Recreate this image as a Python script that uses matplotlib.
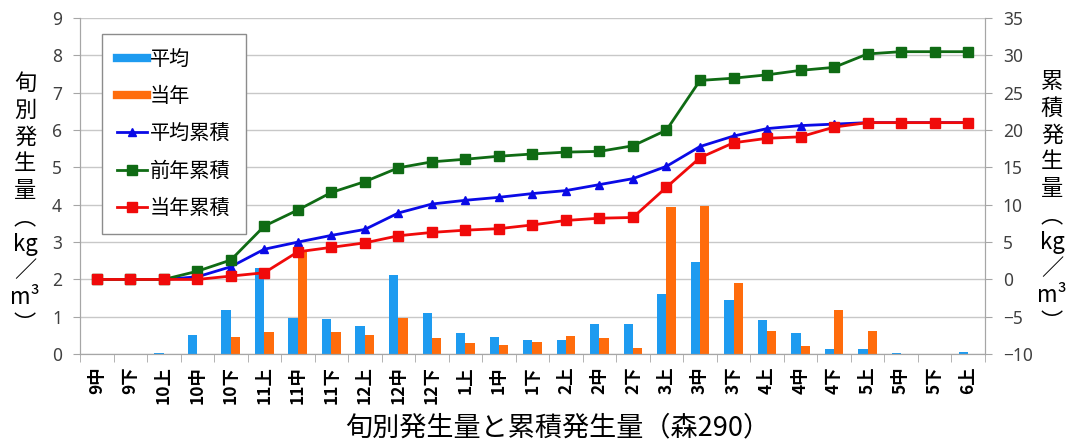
import matplotlib.pyplot as plt
import numpy as np
from matplotlib.lines import Line2D

plt.rcParams["font.family"] = ["Noto Sans", "Noto Sans CJK JP", "DejaVu Sans"]

# 旬 (decade-of-month) labels
periods = ["9中", "9下", "10上", "10中", "10下", "11上", "11中", "11下",
           "12上", "12中", "12下", "1上", "1中", "1下", "2上", "2中", "2下",
           "3上", "3中", "3下", "4上", "4中", "4下", "5上", "5中", "5下", "6上"]

# 旬別発生量 (kg/m3) -- left axis
avg_amount = [0.0, 0.0, 0.03, 0.51, 1.19, 2.30, 0.98, 0.95, 0.75, 2.12,
              1.10, 0.57, 0.45, 0.39, 0.39, 0.80, 0.80, 1.61, 2.46, 1.44,
              0.91, 0.57, 0.15, 0.15, 0.035, 0.0, 0.06]
cur_amount = [0.0, 0.0, 0.0, 0.0, 0.45, 0.60, 2.77, 0.60, 0.52, 0.98,
              0.42, 0.31, 0.25, 0.33, 0.48, 0.42, 0.17, 3.93, 3.97, 1.90,
              0.61, 0.23, 1.17, 0.61, 0.0, 0.0, 0.0]

# 累積発生量 (kg/m3) -- right axis
avg_cum = [0.0, 0.0, 0.0, 0.35, 1.7, 4.05, 5.0, 5.9, 6.7, 8.9,
           10.1, 10.6, 11.0, 11.5, 11.9, 12.7, 13.5, 15.15, 17.8, 19.2,
           20.2, 20.6, 20.8, 21.0, 21.0, 21.0, 21.0]
prev_cum = [0.0, 0.0, 0.0, 1.1, 2.6, 7.15, 9.3, 11.65, 13.1, 14.95,
            15.75, 16.1, 16.5, 16.8, 17.05, 17.15, 17.9, 20.0, 26.65, 26.95,
            27.4, 28.0, 28.4, 30.2, 30.5, 30.5, 30.5]
cur_cum = [0.0, 0.0, 0.0, 0.0, 0.45, 0.9, 3.7, 4.3, 4.9, 5.85,
           6.3, 6.6, 6.8, 7.3, 7.9, 8.2, 8.3, 12.35, 16.3, 18.3,
           18.9, 19.1, 20.4, 21.0, 21.0, 21.0, 21.0]

C_AVG_BAR = "#1e9bf0"
C_CUR_BAR = "#ff6c0c"
C_AVG_LINE = "#0a0ae6"
C_PREV_LINE = "#0f6b14"
C_CUR_LINE = "#f00a0a"
AXIS_GRAY = "#a6a6a6"
JP = ["Noto Sans CJK JP"]

fig = plt.figure(figsize=(10.67, 4.41), dpi=100)
ax = fig.add_axes([0.075, 0.197, 0.848, 0.762])
ax2 = ax.twinx()

x = np.arange(len(periods))
w = 0.28
ax.bar(x - w / 2, avg_amount, w, color=C_AVG_BAR, zorder=2)
ax.bar(x + w / 2, cur_amount, w, color=C_CUR_BAR, zorder=2)

ax2.plot(x, avg_cum, color=C_AVG_LINE, lw=2.0, marker="^", ms=5.5)
ax2.plot(x, prev_cum, color=C_PREV_LINE, lw=2.0, marker="s", ms=7)
ax2.plot(x, cur_cum, color=C_CUR_LINE, lw=2.0, marker="s", ms=7)

ax.set_xlim(-0.5, len(periods) - 0.5)
ax.set_ylim(0, 9)
ax.set_yticks(range(0, 10))
ax2.set_ylim(-10, 35)
ax2.set_yticks(range(-10, 40, 5))

ax.yaxis.grid(True, color="#c8c8c8", lw=1.0, zorder=0)
ax.set_axisbelow(True)

ax.set_xticks(x)
ax.set_xticklabels(periods, rotation=90, fontsize=12.5, fontweight="bold",
                   family=JP)
ax.tick_params(axis="x", length=0, pad=9)
ax.set_xticks(np.arange(-0.5, len(periods)), minor=True)
ax.tick_params(axis="x", which="minor", length=6, color=AXIS_GRAY)

for a in (ax, ax2):
    a.spines["top"].set_visible(False)
    for s in ("left", "right", "bottom"):
        a.spines[s].set_color(AXIS_GRAY)
ax.tick_params(axis="y", labelsize=12.5, labelcolor="#404040",
               color=AXIS_GRAY, length=5, pad=8)
ax2.tick_params(axis="y", labelsize=12.5, labelcolor="#404040",
                color=AXIS_GRAY, length=5, pad=8)

# stacked vertical axis titles
left_label = "\n".join(["旬", "別", "発", "生", "量", "︵", "kg", "／", "m³", "︶"])
right_label = "\n".join(["累", "積", "発", "生", "量", "︵", "kg", "／", "m³", "︶"])
fig.text(25 / 1067, 1 - 204 / 441, left_label, ha="center", va="center",
         fontsize=16, linespacing=1.21, family=JP)
fig.text(1052 / 1067, 1 - 202 / 441, right_label, ha="center", va="center",
         fontsize=16, linespacing=1.21, family=JP)

fig.text(558 / 1067, 1 - 428 / 441, "旬別発生量と累積発生量（森290）",
         ha="center", va="center", fontsize=19.5, family=JP)

handles = [
    Line2D([], [], color=C_AVG_BAR, lw=6),
    Line2D([], [], color=C_CUR_BAR, lw=6),
    Line2D([], [], color=C_AVG_LINE, lw=2.0, marker="^", ms=5.5),
    Line2D([], [], color=C_PREV_LINE, lw=2.0, marker="s", ms=7),
    Line2D([], [], color=C_CUR_LINE, lw=2.0, marker="s", ms=7),
]
labels = ["平均", "当年", "平均累積", "前年累積", "当年累積"]
leg = ax2.legend(handles, labels, loc="upper left",
                 bbox_to_anchor=(0.024, 0.952), borderaxespad=0,
                 fancybox=False, framealpha=1, edgecolor="#8c8c8c",
                 prop={"family": JP, "size": 14.5},
                 handlelength=1.5, handletextpad=0.15, labelspacing=0.8,
                 borderpad=0.75, numpoints=1)
leg.get_frame().set_linewidth(1.0)

fig.savefig("out.png", dpi=100)
